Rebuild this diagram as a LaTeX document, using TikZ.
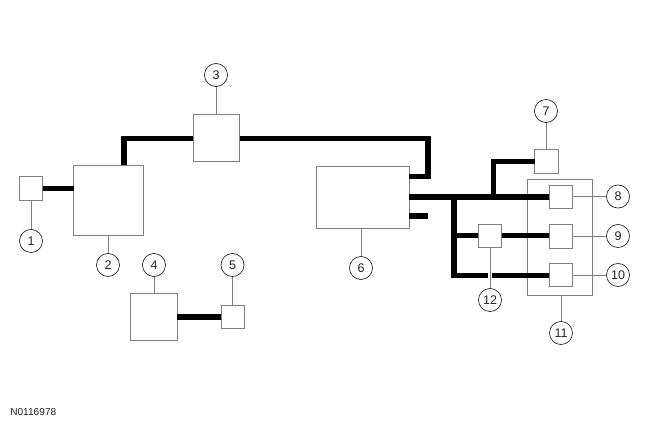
\documentclass[tikz,border=0pt]{standalone}
\usepackage{fontspec}
\setmainfont{Liberation Sans}
\usetikzlibrary{positioning}
\definecolor{edgeGray}{HTML}{808080}
\definecolor{inkGray}{HTML}{262626}
\tikzset{
    unit/.style={
        rectangle,
        draw=edgeGray,
        line width=0.7pt,
        fill=white,
        inner sep=0pt,
        outer sep=0pt,
        minimum width=#1*0.75pt,
        minimum height=#1*0.75pt
    },
    tag/.style={
        circle,
        draw=inkGray,
        line width=0.5pt,
        fill=white,
        inner sep=0pt,
        outer sep=0pt,
        minimum size=17.3pt,
        text=inkGray,
        font=\fontsize{9.4}{11}\selectfont
    },
    wire/.style={line width=4pt,draw=black,line join=miter},
    gap/.style={line width=2.6pt,draw=white},
    leader/.style={line width=0.7pt,draw=edgeGray}
}

\begin{document}
\begin{tikzpicture}[x=0.75pt,y=-0.75pt]
    \useasboundingbox (0,0) rectangle (650,425);
    \node[unit=23.5] (sensor) at (31,188.7) {};
    \node[unit=70] (pcm) at (108.5,200) {};
    \node[unit=46.5] (hub) at (216.7,138.2) {};
    \node[unit=46.5] (lowermodule) at (154.2,317) {};
    \node[unit=23.5] (lowersensor) at (232.8,317) {};
    \node[unit=23.5] (topsensor) at (546.3,161.7) {};
    \node[unit=23.5] (port) at (561,197) {};
    \node[unit=23.5] (midport) at (561,236.5) {};
    \node[unit=23.5] (lowport) at (561,275.2) {};
    \node[unit=23.5] (splitter) at (490.2,235.8) {};
    \node[unit=1, draw=edgeGray, fill=none, minimum width=48.75pt, minimum height=87pt]
        (cluster) at (560,237) {};
    \node[unit=1, minimum width=69.75pt, minimum height=46.5pt] (control) at (362.5,197) {};

    \node[tag] (tag1) at (31,241) {1};
    \node[tag] (tag2) at (108,265) {2};
    \node[tag] (tag3) at (216,75) {3};
    \node[tag] (tag4) at (154,265) {4};
    \node[tag] (tag5) at (232.5,265) {5};
    \node[tag] (tag6) at (361,268) {6};
    \node[tag] (tag7) at (546,111) {7};
    \node[tag] (tag8) at (618,196.5) {8};
    \node[tag] (tag9) at (618,236) {9};
    \node[tag] (tag10) at (618,275) {10};
    \node[tag] (tag11) at (561,333) {11};
    \node[tag] (tag12) at (490,300) {12};
    \node[anchor=west,inner sep=0pt,text=inkGray,font=\fontsize{7.6}{9}\selectfont]
        (code) at (10,412) {N0116978};

    \coordinate (trunk) at (454,197);
    \coordinate (riser) at (493.3,197);

    \draw[wire] (sensor.east) -- (sensor.east -| pcm.west);
    \draw[wire] (lowermodule.east) -- (lowersensor.west);
    \draw[wire] (pcm.north -| 124,0) |- (hub.west);
    \draw[wire] (hub.east) -- (428,138.2) |- (control.east |- 0,176.5);
    \draw[wire] (control.east) -- (port.west);
    \draw[wire] (control.east |- 0,216) -- (428,216);
    \draw[wire] (riser) |- (topsensor.west);
    \draw[wire] (trunk) |- (lowport.west);
    \draw[wire] (trunk |- splitter.west) -- (splitter.west);
    \draw[wire] (splitter.east) -- (splitter.east -| midport.west);
    \draw[gap] (splitter.south |- 0,275.2) ++(0,-4) -- ++(0,8);

    \draw[leader] (sensor.south -| tag1) -- (tag1);
    \draw[leader] (pcm.south -| tag2) -- (tag2);
    \draw[leader] (hub.north -| tag3) -- (tag3);
    \draw[leader] (lowermodule.north -| tag4) -- (tag4);
    \draw[leader] (lowersensor.north -| tag5) -- (tag5);
    \draw[leader] (control.south -| tag6) -- (tag6);
    \draw[leader] (topsensor.north -| tag7) -- (tag7);
    \draw[leader] (port.east |- tag8) -- (tag8);
    \draw[leader] (midport.east |- tag9) -- (tag9);
    \draw[leader] (lowport.east |- tag10) -- (tag10);
    \draw[leader] (cluster.south -| tag11) -- (tag11);
    \draw[leader] (splitter.south -| tag12) -- (tag12);
\end{tikzpicture}
\end{document}
